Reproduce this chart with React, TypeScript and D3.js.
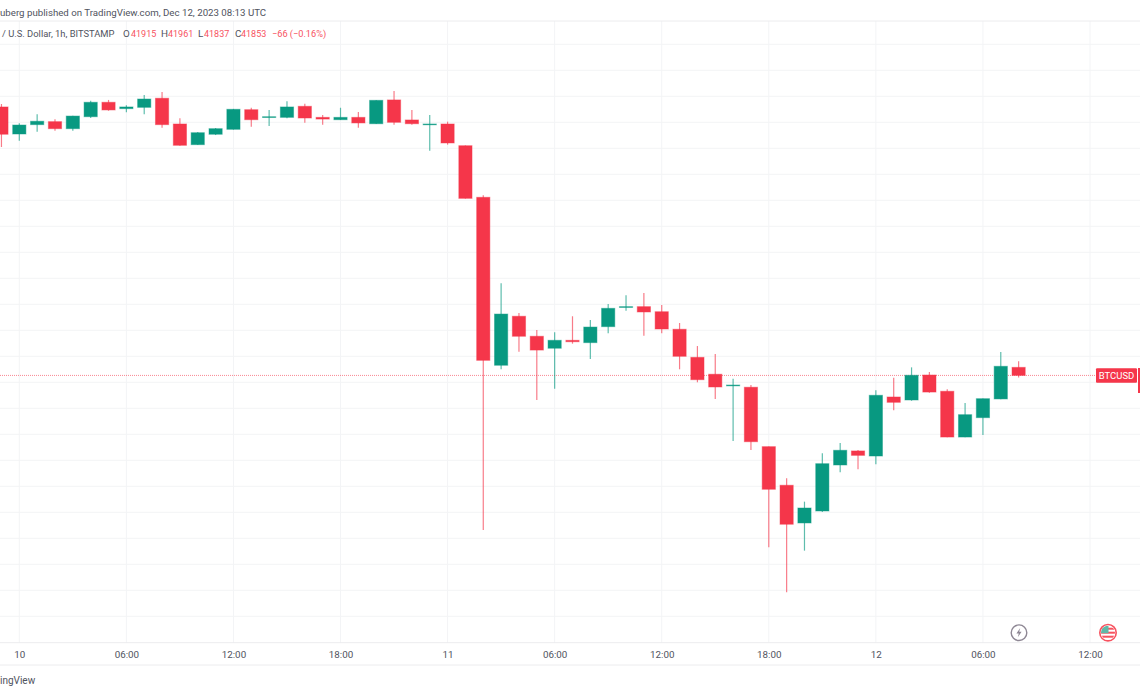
import React, { useEffect, useRef } from 'react';
import * as d3 from 'd3';

// hourly candles, first one is Dec 9 23:00 UTC
const firstCandle = Date.UTC(2023, 11, 9, 23);
const opens = [
  43918, 43710, 43782, 43805, 43751, 43843, 43954, 43905, 43915, 43985, 43787, 43628, 43708, 43746, 43897, 43838,
  43838, 43923, 43838, 43820, 43838, 43789, 43972, 43818, 43783, 43787, 43620, 43223, 41931, 42308, 42154, 42062,
  42123, 42105, 42228, 42377, 42382, 42343, 42208, 41992, 41862, 41775, 41762, 41305, 41008, 40718, 40810, 41164,
  41272, 41233, 41687, 41664, 41856, 41731, 41379, 41528, 41672, 41915,
];
const highs = [
  43941, 43792, 43862, 43823, 43850, 43966, 43972, 43931, 44010, 44033, 43831, 43725, 43756, 43903, 43912, 43895,
  43962, 43943, 43856, 43912, 43879, 43972, 44041, 43895, 43856, 43805, 43622, 43238, 42562, 42333, 42202, 42185,
  42308, 42279, 42402, 42469, 42487, 42395, 42256, 42079, 42018, 41828, 41779, 41307, 41062, 40882, 41254, 41333,
  41279, 41738, 41835, 41915, 41879, 41746, 41641, 41676, 42033, 41961,
];
const lows = [
  43610, 43658, 43728, 43735, 43735, 43833, 43889, 43877, 43862, 43758, 43620, 43625, 43702, 43744, 43766, 43772,
  43831, 43797, 43782, 43818, 43758, 43787, 43782, 43782, 43582, 43628, 43213, 40664, 41900, 42035, 41664, 41751,
  42097, 41979, 42177, 42351, 42158, 42177, 41900, 41800, 41672, 41348, 41279, 40531, 40185, 40505, 40802, 41108,
  41131, 41169, 41585, 41658, 41720, 41377, 41377, 41395, 41670, 41837,
];
const closes = [
  43708, 43779, 43808, 43751, 43848, 43954, 43895, 43918, 43979, 43782, 43623, 43720, 43751, 43900, 43820, 43843,
  43918, 43833, 43825, 43838, 43795, 43969, 43800, 43789, 43787, 43641, 43215, 41969, 42325, 42154, 42048, 42123,
  42112, 42225, 42369, 42382, 42341, 42210, 42000, 41820, 41764, 41779, 41343, 40977, 40708, 40833, 41174, 41277,
  41238, 41700, 41646, 41854, 41725, 41379, 41551, 41674, 41923, 41853,
];

const timeTicks = [
  Date.UTC(2023, 11, 10, 0), Date.UTC(2023, 11, 10, 6), Date.UTC(2023, 11, 10, 12), Date.UTC(2023, 11, 10, 18),
  Date.UTC(2023, 11, 11, 0), Date.UTC(2023, 11, 11, 6), Date.UTC(2023, 11, 11, 12), Date.UTC(2023, 11, 11, 18),
  Date.UTC(2023, 11, 12, 0), Date.UTC(2023, 11, 12, 6), Date.UTC(2023, 11, 12, 12),
];
const priceTicks = d3.range(40000, 44600, 200);
const lastPrice = 41853;
const headerText = 'uberg published on TradingView.com, Dec 12, 2023 08:13 UTC';
const titleText = '/ U.S. Dollar, 1h, BITSTAMP';
const ohlcLabels = ['O', 'H', 'L', 'C'];
const ohlcValues = ['41915', '41961', '41837', '41853'];
const changeText = '\u221266 (\u22120.16%)';

const RED = '#f5364a';
const GREEN = '#089981';
const GRID = '#f3f4f6';
const TEXT = '#50535e';
const FONT = "Roboto, Lato, sans-serif";

export default function App() {
  const svgRef = useRef<SVGSVGElement>(null);

  useEffect(() => {
    if (!svgRef.current) return;
    const svg = d3.select(svgRef.current);
    svg.selectAll('*').remove();

    const x = d3.scaleUtc()
      .domain([Date.UTC(2023, 11, 10, 0), Date.UTC(2023, 11, 12, 12)])
      .range([19.3, 1090]);
    const y = d3.scaleLinear().domain([40000, 44400]).range([616.3, 44.3]);

    // Grid
    svg.append('g').selectAll('line').data(priceTicks).join('line')
      .attr('x1', 0).attr('x2', 1140)
      .attr('y1', d => y(d)).attr('y2', d => y(d))
      .attr('stroke', GRID);
    svg.append('g').selectAll('line').data(timeTicks).join('line')
      .attr('x1', d => x(d)).attr('x2', d => x(d))
      .attr('y1', 21).attr('y2', 643)
      .attr('stroke', GRID);

    // Frame lines
    [21, 642.7, 665].forEach(ly => {
      svg.append('line').attr('x1', 0).attr('x2', 1140).attr('y1', ly).attr('y2', ly)
        .attr('stroke', '#ececee');
    });

    // Time axis
    const axis = d3.axisBottom(x)
      .tickValues(timeTicks.map(d => new Date(d)))
      .tickSize(0)
      .tickFormat((d: any) => {
        const date = d as Date;
        return date.getUTCHours() === 0 ? String(date.getUTCDate()) : d3.utcFormat('%H:%M')(date);
      });
    const axisG = svg.append('g').attr('transform', 'translate(0,643)').call(axis as any);
    axisG.select('.domain').remove();
    axisG.selectAll('text')
      .attr('y', 14.5).attr('dy', 0)
      .attr('font-family', FONT).attr('font-size', 9.8).attr('fill', TEXT);

    // Last price line
    svg.append('line')
      .attr('x1', 0).attr('x2', 1096)
      .attr('y1', y(lastPrice)).attr('y2', y(lastPrice))
      .attr('stroke', RED).attr('stroke-opacity', 0.6)
      .attr('stroke-dasharray', '1,1');

    // Candles
    const candles = d3.range(opens.length);
    const time = (i: number) => firstCandle + i * 3600000;
    const color = (i: number) => (closes[i] >= opens[i] ? GREEN : RED);

    svg.append('g').selectAll('line').data(candles).join('line')
      .attr('x1', i => x(time(i))).attr('x2', i => x(time(i)))
      .attr('y1', i => y(highs[i])).attr('y2', i => y(lows[i]))
      .attr('stroke', color).attr('stroke-opacity', 0.65).attr('stroke-width', 1.2);

    svg.append('g').selectAll('rect').data(candles).join('rect')
      .attr('x', i => x(time(i)) - 6.6)
      .attr('width', 13.2)
      .attr('y', i => y(Math.max(opens[i], closes[i])))
      .attr('height', i => Math.max(y(Math.min(opens[i], closes[i])) - y(Math.max(opens[i], closes[i])), 0.8))
      .attr('fill', color)
      .attr('stroke', color).attr('stroke-opacity', 0.45).attr('stroke-width', 1);

    // Header and legend
    const label = (tx: number, ty: number, s: string, fill: string, size = 10) =>
      svg.append('text').attr('x', tx).attr('y', ty).attr('font-family', FONT)
        .attr('font-size', size).attr('fill', fill).text(s);

    label(0, 15.5, headerText, TEXT, 9.7);
    label(2, 36.5, titleText, TEXT, 9.4);
    const labelX = [123, 161, 198, 235];
    const valueX = [131, 168, 204, 241];
    ohlcLabels.forEach((l, i) => {
      label(labelX[i], 36.5, l, TEXT, 9.8);
      label(valueX[i], 36.5, ohlcValues[i], '#f7525f', 9);
    });
    label(272, 36.5, changeText, '#f7525f', 9.2);
    label(0, 683.5, 'ingView', TEXT, 10);

    // Symbol tag at the right edge
    svg.append('rect').attr('x', 1096).attr('y', 368.3).attr('width', 41).attr('height', 14.5)
      .attr('rx', 1).attr('fill', RED);
    svg.append('text').attr('x', 1116.5).attr('y', 379).attr('text-anchor', 'middle')
      .attr('font-family', FONT).attr('font-size', 9.5).attr('fill', '#fff').text('BTCUSD');
    svg.append('rect').attr('x', 1138).attr('y', 368).attr('width', 2).attr('height', 25).attr('fill', RED);

    // Lightning event marker
    const bolt = svg.append('g').attr('transform', 'translate(1019,632.7)');
    bolt.append('circle').attr('r', 7.8).attr('fill', '#fff').attr('stroke', '#8e8794').attr('stroke-width', 1.4);
    bolt.append('path').attr('d', 'M1.2,-4.6 L-2.6,0.8 L-0.2,0.8 L-1.2,4.6 L2.6,-0.9 L0.2,-0.9 Z').attr('fill', '#8e8794');

    // US flag event marker
    const defs = svg.append('defs');
    defs.append('clipPath').attr('id', 'flag-clip').append('circle').attr('r', 7);
    const flag = svg.append('g').attr('transform', 'translate(1108,632.7)');
    flag.append('circle').attr('r', 8.2).attr('fill', '#fff').attr('stroke', '#f7525f').attr('stroke-width', 1.6);
    const flagInner = flag.append('g').attr('clip-path', 'url(#flag-clip)');
    flagInner.append('rect').attr('x', -7).attr('y', -7).attr('width', 14).attr('height', 14).attr('fill', '#fff');
    [-5, -1, 3].forEach(sy => {
      flagInner.append('rect').attr('x', -7).attr('y', sy).attr('width', 14).attr('height', 2).attr('fill', '#f7525f');
    });
    flagInner.append('rect').attr('x', -7).attr('y', -7).attr('width', 7.5).attr('height', 7.5).attr('fill', '#5fb8a8');
  }, []);

  return (
    <svg
      ref={svgRef}
      width={1140}
      height={694}
      style={{ position: 'absolute', left: 0, top: 0, background: '#fff' }}
    />
  );
}
